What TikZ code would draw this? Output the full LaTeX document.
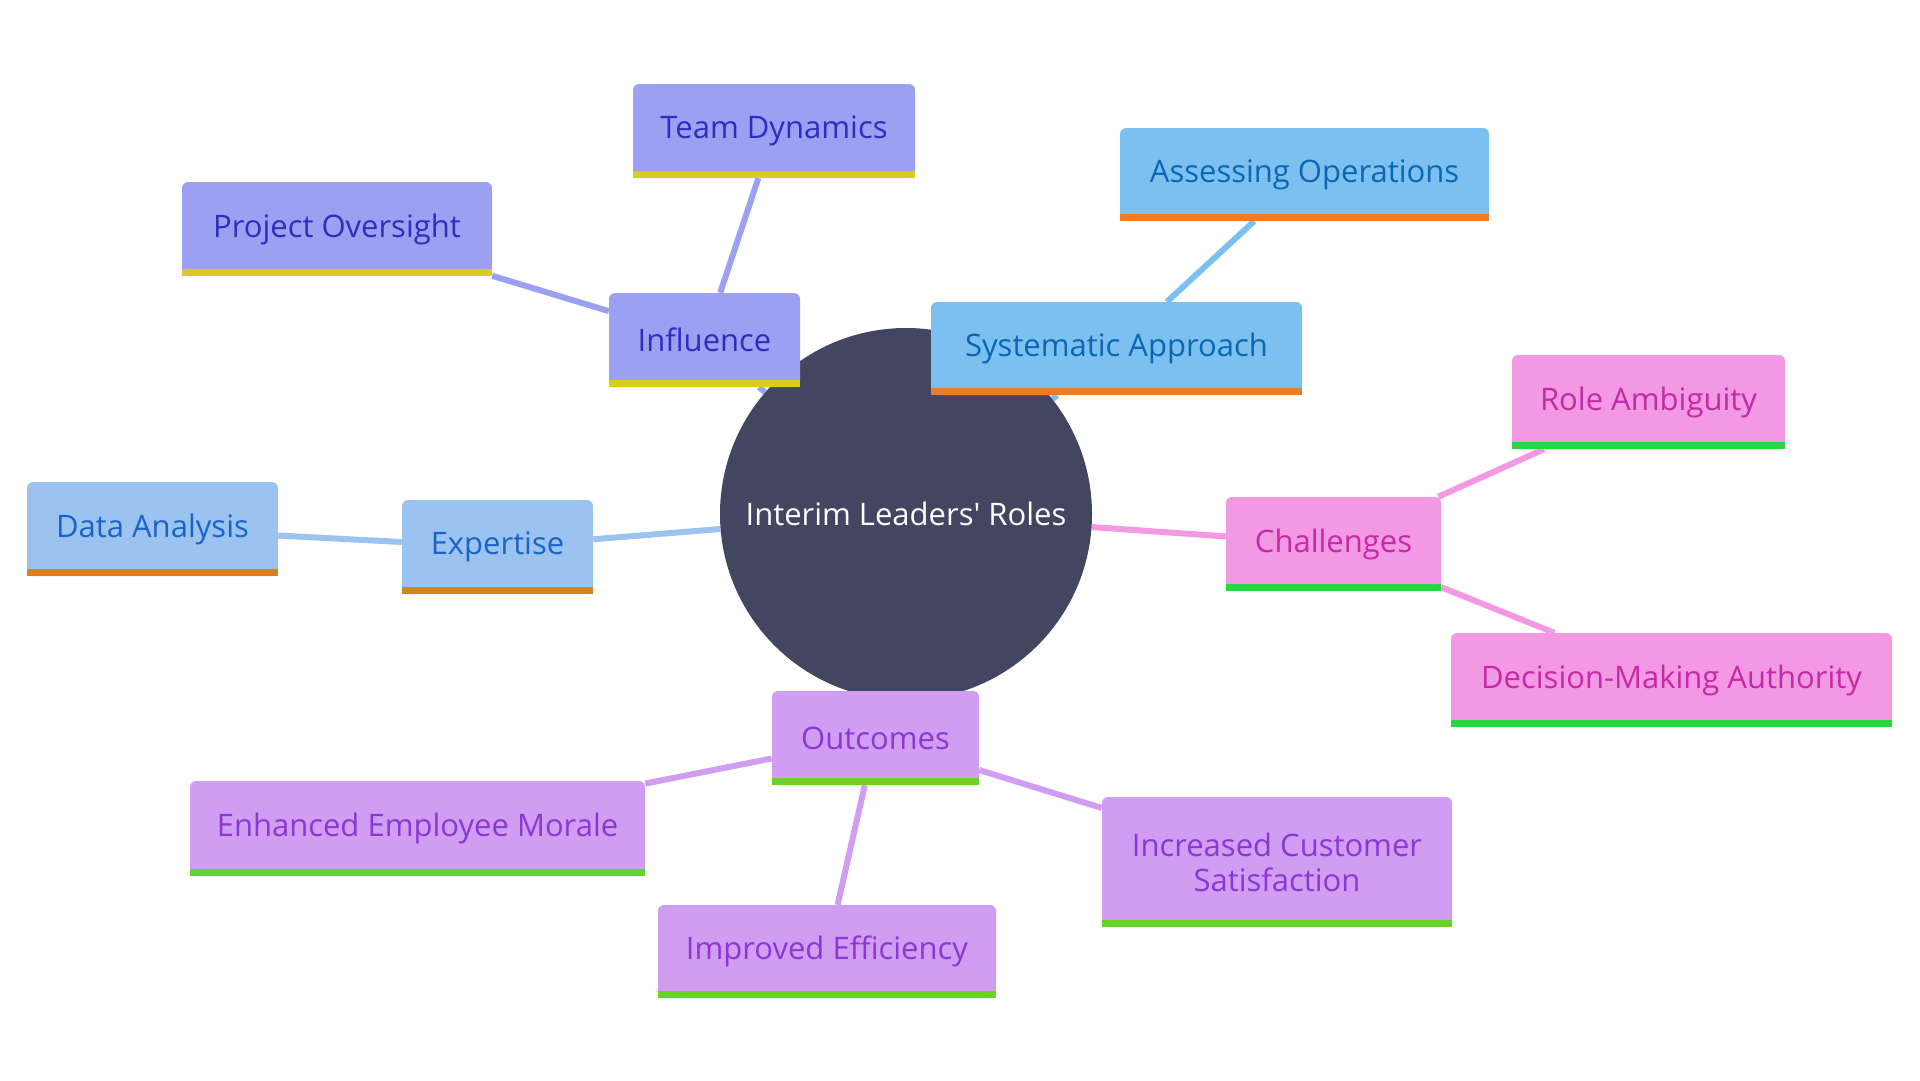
\documentclass[tikz,border=0pt]{standalone}
\usepackage{fontspec}
\setmainfont{Open Sans}
\usetikzlibrary{backgrounds,positioning}
\definecolor{rootc}{HTML}{424660}
\definecolor{inflF}{HTML}{9CA0F2}
\definecolor{inflT}{HTML}{2A2FC0}
\definecolor{inflB}{HTML}{D8CC20}
\definecolor{systF}{HTML}{7CC0F0}
\definecolor{systT}{HTML}{0B67B5}
\definecolor{systB}{HTML}{E87D2E}
\definecolor{expF}{HTML}{9CC3EF}
\definecolor{expT}{HTML}{1964C8}
\definecolor{expB}{HTML}{D8821F}
\definecolor{chalF}{HTML}{F398E2}
\definecolor{chalT}{HTML}{C42AA8}
\definecolor{chalB}{HTML}{24D93F}
\definecolor{outF}{HTML}{D09DF2}
\definecolor{outT}{HTML}{8A37D4}
\definecolor{outB}{HTML}{67D22A}
\tikzset{
    topic/.style args={#1 #2}{
        fill=#1, text=#2, rounded corners=6pt, inner sep=0pt,
        minimum height=94pt, align=center,
        font=\fontsize{31}{35}\selectfont
    },
    link/.style={line width=6pt, draw=#1}
}

\begin{document}
\begin{tikzpicture}[x=1pt, y=-1pt]
    \useasboundingbox (0,0) rectangle (1920,1080);
    \def \barh {7}
    % centre
    \node[circle, fill=rootc, minimum size=372pt, text=white,
        font=\fontsize{31}{35}\selectfont] (root) at (906,514) {Interim Leaders\textquotesingle{} Roles};
    % influence
    \node[topic={inflF inflT}, minimum width=191pt] (infl) at (704.5,340) {Influence};
    \node[topic={inflF inflT}, minimum width=282pt] (team) at (774,131) {Team Dynamics};
    \node[topic={inflF inflT}, minimum width=310pt] (proj) at (337,229) {Project Oversight};
    % systematic approach
    \node[topic={systF systT}, minimum width=371pt, minimum height=93pt] (syst) at (1116.5,348.5) {Systematic Approach};
    \node[topic={systF systT}, minimum width=369pt, minimum height=93pt] (assess) at (1304.5,174.5) {Assessing Operations};
    % expertise
    \node[topic={expF expT}, minimum width=191pt] (expert) at (497.5,547) {Expertise};
    \node[topic={expF expT}, minimum width=251pt] (data) at (152.5,529) {Data Analysis};
    % challenges
    \node[topic={chalF chalT}, minimum width=215pt] (chall) at (1333.5,544) {Challenges};
    \node[topic={chalF chalT}, minimum width=273pt] (role) at (1648.5,402) {Role Ambiguity};
    \node[topic={chalF chalT}, minimum width=441pt] (decis) at (1671.5,680) {Decision-Making Authority};
    % outcomes
    \node[topic={outF outT}, minimum width=207pt] (outc) at (875.5,738) {Outcomes};
    \node[topic={outF outT}, minimum width=455pt, minimum height=95pt] (morale) at (417.5,828.5) {Enhanced Employee Morale};
    \node[topic={outF outT}, minimum width=338pt, minimum height=93pt] (effic) at (827,951.5) {Improved Efficiency};
    \node[topic={outF outT}, minimum width=350pt, minimum height=130pt] (custom) at (1277,862) {Increased Customer\\Satisfaction};
    % bars under the boxes
    \foreach \n/\c in {infl/inflB, team/inflB, proj/inflB,
        syst/systB, assess/systB, expert/expB, data/expB,
        chall/chalB, role/chalB, decis/chalB,
        outc/outB, morale/outB, effic/outB, custom/outB}{
        \fill[\c] (\n.south west) rectangle ([yshift=\barh pt]\n.south east);
    }
    % links
    \begin{scope}[on background layer]
    \draw[link=inflF] (root) -- (infl);
    \draw[link=inflF] (infl) -- (team);
    \draw[link=inflF] (infl) -- (proj);
    \draw[link=systF] (root) -- (syst);
    \draw[link=systF] (syst) -- (assess);
    \draw[link=expF] (root) -- (expert);
    \draw[link=expF] (expert) -- (data);
    \draw[link=chalF] (root) -- (chall);
    \draw[link=chalF] (chall) -- (role);
    \draw[link=chalF] (chall) -- (decis);
    \draw[link=outF] (root) -- (outc);
    \draw[link=outF] (outc) -- (morale);
    \draw[link=outF] (outc) -- (effic);
    \draw[link=outF] (outc) -- (custom);
    \end{scope}
\end{tikzpicture}
\end{document}
